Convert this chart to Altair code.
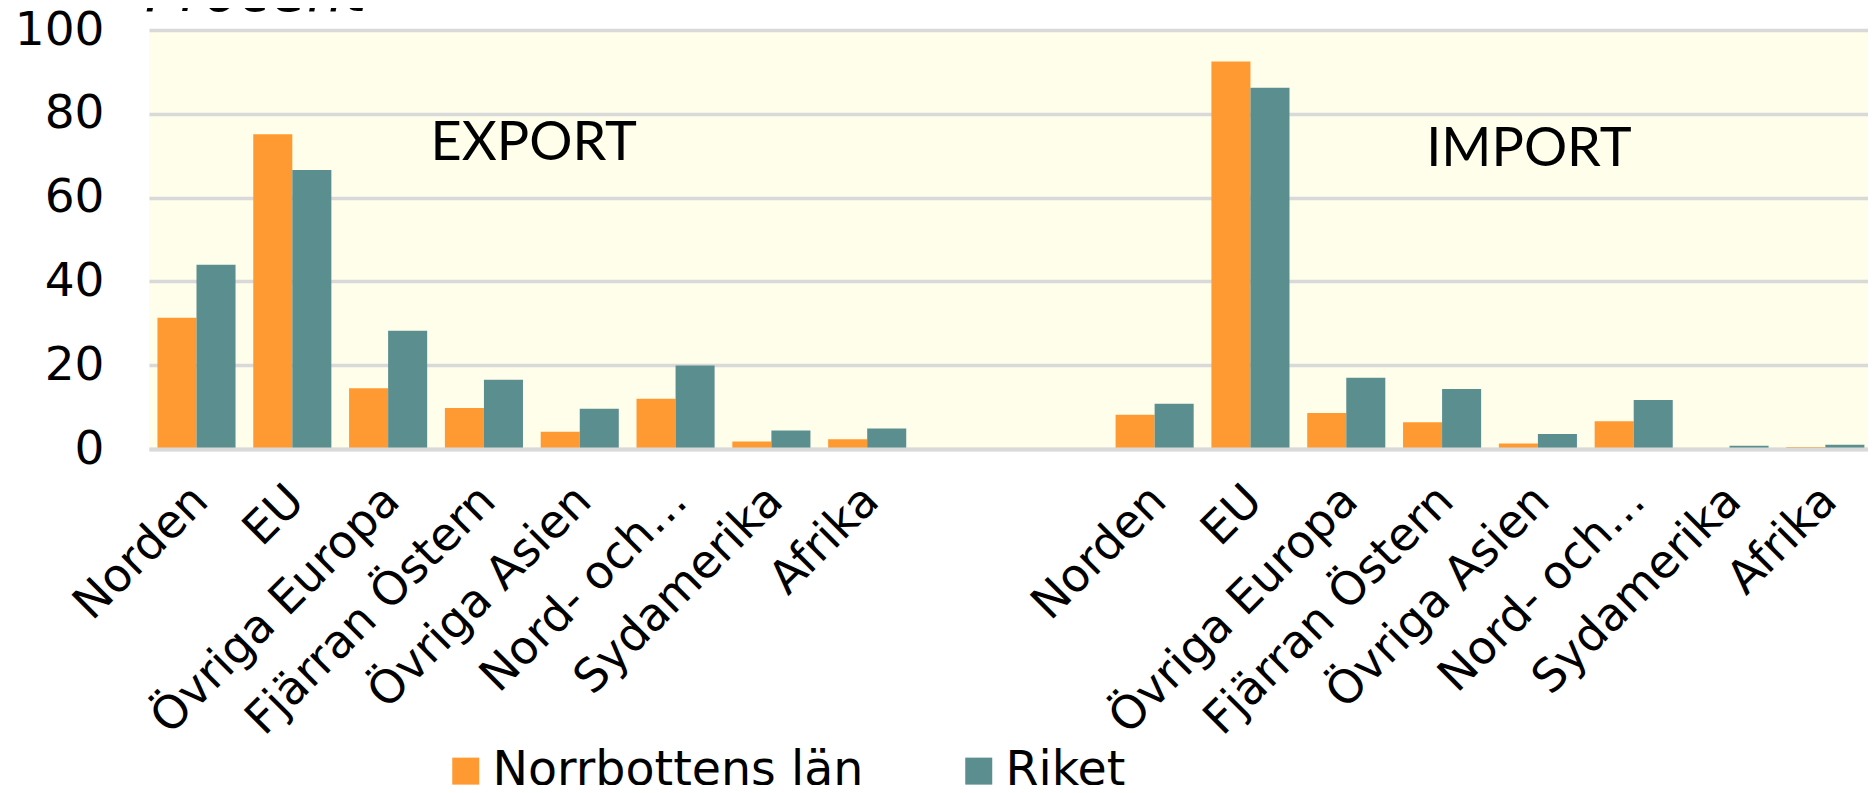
import altair as alt
import pandas as pd

# ---- data ----
categories = ["Norden", "EU", "Övriga Europa", "Fjärran Östern", "Övriga Asien",
              "Nord- och…", "Sydamerika", "Afrika"]
series_names = ["Norrbottens län", "Riket"]
export_norrbotten = [31.3, 75.1, 14.5, 9.8, 4.1, 12.0, 1.8, 2.3]
export_riket = [44.0, 66.6, 28.2, 16.5, 9.6, 19.9, 4.4, 4.9]
import_norrbotten = [8.2, 92.5, 8.6, 6.4, 1.3, 6.6, 0.2, 0.5]
import_riket = [10.8, 86.2, 17.0, 14.3, 3.6, 11.7, 0.8, 1.0]
y_ticks = [0, 20, 40, 60, 80, 100]
group_labels = ["EXPORT", "IMPORT"]
group_label_values = [68.9, 67.6]
y_title = "Procent"

colors = ["#FF9A33", "#5B8F8F"]

rows = []
for grp, vals in [("Export", [export_norrbotten, export_riket]),
                  ("Import", [import_norrbotten, import_riket])]:
    for i, c in enumerate(categories):
        for s, v in zip(series_names, vals):
            rows.append({"key": f"{grp}|{c}", "series": s, "value": v[i]})
df = pd.DataFrame(rows)

domain = [f"Export|{c}" for c in categories] + ["gap1|", "gap2|"] + \
         [f"Import|{c}" for c in categories]

FONT = "DejaVu Sans"

x_enc = alt.X(
    "key:N",
    sort=domain,
    scale=alt.Scale(domain=domain, paddingInner=0.185, paddingOuter=0.063, align=0.7),
    axis=alt.Axis(
        title=None,
        labelExpr="split(datum.value, '|')[1]",
        labelAngle=-45, labelAlign="right", labelBaseline="middle",
        labelPadding=44, labelOffset=4, labelFontSize=46, labelFont=FONT, labelColor="black",
        labelOverlap=False, labelLimit=1000,
        ticks=False, grid=False,
        domainColor="#D9D9D9", domainWidth=4, zindex=1,
    ),
)
y_enc = alt.Y(
    "value:Q",
    scale=alt.Scale(domain=[0, 100], nice=False),
    axis=alt.Axis(
        title=None, values=y_ticks,
        gridColor="#D9D9D9", gridWidth=3.5,
        domain=False, ticks=False,
        labelFontSize=47, labelFont=FONT, labelColor="black", labelPadding=45,
    ),
)

bars = alt.Chart(df).mark_bar().encode(
    x=x_enc,
    xOffset=alt.XOffset("series:N", sort=series_names,
                        scale=alt.Scale(domain=series_names, paddingInner=0, paddingOuter=0)),
    y=y_enc,
    color=alt.Color(
        "series:N", sort=series_names,
        scale=alt.Scale(domain=series_names, range=colors),
        legend=alt.Legend(
            title=None, orient="none", legendX=293, legendY=717,
            direction="horizontal", symbolType="square", symbolSize=729,
            symbolStrokeWidth=0, labelFontSize=47.5, labelFont=FONT,
            labelColor="black", labelOffset=3, columnPadding=91,
            padding=0, labelLimit=1000,
        ),
    ),
)

ann_export = alt.Chart(pd.DataFrame({
    "key": [f"Export|{categories[4]}"], "value": [group_label_values[0]],
    "label": [group_labels[0]]})).mark_text(
    font="Lato", fontSize=54, dx=-46, align="center", baseline="alphabetic", color="black"
).encode(x=x_enc, y=y_enc, text="label:N")

ann_import = alt.Chart(pd.DataFrame({
    "key": [f"Import|{categories[4]}"], "value": [group_label_values[1]],
    "label": [group_labels[1]]})).mark_text(
    font="Lato", fontSize=54, dx=-9, align="center", baseline="alphabetic", color="black"
).encode(x=x_enc, y=y_enc, text="label:N")

title_txt = alt.Chart(pd.DataFrame({"t": [y_title]})).mark_text(
    font=FONT, fontStyle="italic", fontSize=58, align="left", baseline="alphabetic", color="black"
).encode(text="t:N", x=alt.value(-4), y=alt.value(-19))

chart = alt.layer(bars, ann_export, ann_import, title_txt).properties(
    width=1719, height=419,
    background="white",
    autosize=alt.AutoSizeParams(type="none"),
    padding={"left": 141, "top": 22, "right": 0, "bottom": 336},
).configure_view(stroke=None, fill="#FEFEEB")

chart.save("out.html", embed_options={"renderer": "svg", "actions": False})
